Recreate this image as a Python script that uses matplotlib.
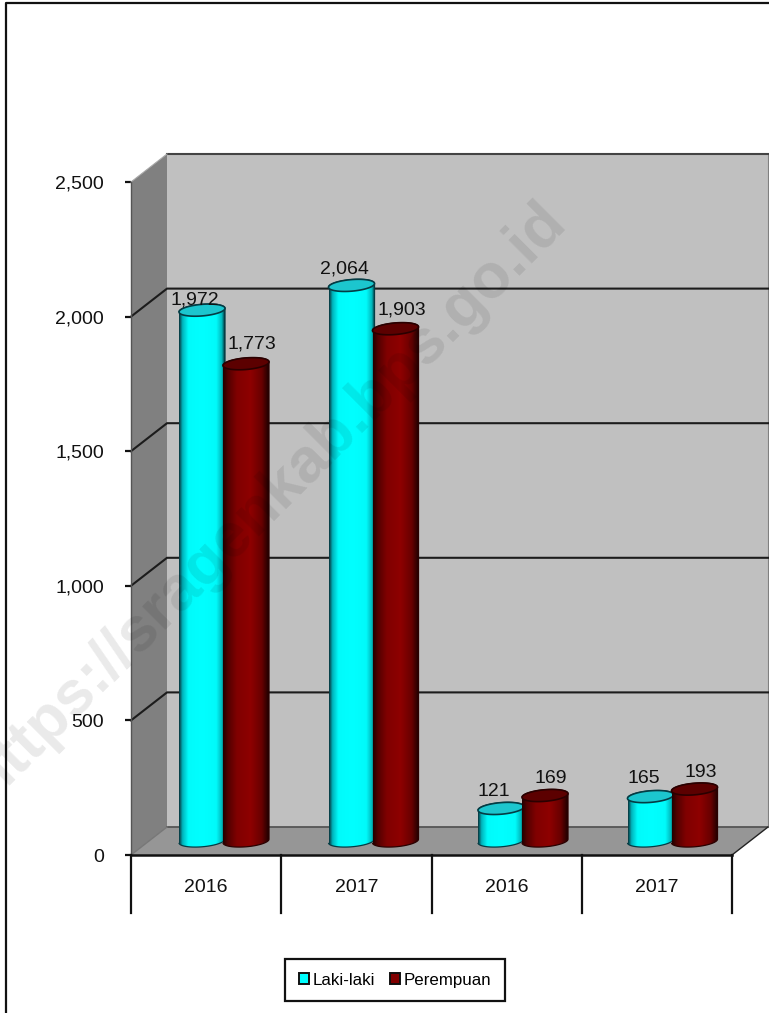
import matplotlib
matplotlib.use("Agg")
import matplotlib.pyplot as plt
import numpy as np
from matplotlib.colors import LinearSegmentedColormap
from matplotlib.lines import Line2D
from matplotlib.patches import Patch, PathPatch, Polygon
from matplotlib.path import Path

plt.rcParams["font.family"] = ["Liberation Sans", "DejaVu Sans"]

# Data
categories = ["2016", "2017", "2016", "2017"]
laki_laki = [1972, 2064, 121, 165]
perempuan = [1773, 1903, 169, 193]
y_ticks = [0, 500, 1000, 1500, 2000, 2500]

W, H = 769, 1013
# front plane of the 3d box, in pixels
LEFT, RIGHT, ZERO_Y, TOP_Y = 131, 732, 855, 182
X_PX = (RIGHT - LEFT) / 4          # pixels per category
Y_PX = (ZERO_Y - TOP_Y) / 2500     # pixels per unit

# sizes given in pixels, converted to data units
DEPTH_X = 36 / X_PX
DEPTH_Y = 28 / Y_PX
BASE_LIFT = 14 / Y_PX
RADIUS_X = 23 / X_PX
RADIUS_Y = 5.8 / Y_PX
TILT = 0.08 * X_PX / Y_PX          # ellipse rises to the right

CYAN_BODY = LinearSegmentedColormap.from_list(
    "cyan_body", [(0, "#083a42"), (0.07, "#00b4bc"), (0.2, "#00fbfb"), (0.5, "#00ffff"),
                  (0.82, "#00fafa"), (0.94, "#00b8bc"), (1, "#063c44")])
RED_BODY = LinearSegmentedColormap.from_list(
    "red_body", [(0, "#240000"), (0.1, "#520000"), (0.3, "#800000"), (0.6, "#8e0000"),
                 (0.85, "#680000"), (1, "#200000")])


def draw_walls(ax):
    """ Draws side wall, back wall, floor and the grid lines"""
    xmax = 4 + DEPTH_X
    ymax = 2500 + DEPTH_Y
    ax.add_patch(Polygon([(0, 0), (DEPTH_X, DEPTH_Y), (DEPTH_X, ymax), (0, 2500)],
                         facecolor="#808080", edgecolor="none", clip_on=False, zorder=1))
    ax.add_patch(Polygon([(DEPTH_X, DEPTH_Y), (xmax, DEPTH_Y), (xmax, ymax), (DEPTH_X, ymax)],
                         facecolor="#c0c0c0", edgecolor="none", clip_on=False, zorder=1))
    ax.add_patch(Polygon([(0, 0), (4, 0), (xmax, DEPTH_Y), (DEPTH_X, DEPTH_Y)],
                         facecolor="#969696", edgecolor="none", clip_on=False, zorder=1))
    # outline of the floor
    ax.plot([DEPTH_X, xmax], [DEPTH_Y, DEPTH_Y], color="#555555", lw=1.3, clip_on=False, zorder=2)
    ax.plot([xmax, xmax], [DEPTH_Y, ymax], color="#808080", lw=0.8, clip_on=False, zorder=2)
    ax.plot([4, xmax], [0, DEPTH_Y], color="#222222", lw=1.0, clip_on=False, zorder=2)
    ax.plot([0, DEPTH_X], [0, DEPTH_Y], color="#777777", lw=1.0, clip_on=False, zorder=2)

    for tick in y_ticks[1:-1]:
        ax.plot([0, DEPTH_X, xmax], [tick, tick + DEPTH_Y, tick + DEPTH_Y],
                color="#1c1c1c", lw=1.5, clip_on=False, zorder=2)
    # top edge of the box is softer
    ax.plot([DEPTH_X, xmax], [ymax, ymax], color="#444444", lw=1.5, clip_on=False, zorder=2)
    ax.plot([0, DEPTH_X], [2500, ymax], color="#a8a8a8", lw=0.8, clip_on=False, zorder=2)


def draw_cylinder(ax, cx, value, cmap, top_color, edge_color):
    """ Draws one shaded cylinder, centre given in data units"""
    base = BASE_LIFT
    top = base + value
    t = np.linspace(0, np.pi, 50)

    # bottom half of the base, left to right
    bx = cx - RADIUS_X * np.cos(t)
    by = base - RADIUS_Y * np.sin(t) + (bx - cx) * TILT
    # top half of the top ellipse, right to left
    tx = cx + RADIUS_X * np.cos(t)
    ty = top + RADIUS_Y * np.sin(t) + (tx - cx) * TILT

    outline = Path(np.column_stack([np.r_[bx, tx], np.r_[by, ty]]))
    body = PathPatch(outline, facecolor="none", edgecolor="none", transform=ax.transData)
    ax.add_patch(body)

    shade = ax.imshow(np.linspace(0, 1, 64).reshape(1, -1), cmap=cmap, aspect="auto",
                      extent=(cx - RADIUS_X, cx + RADIUS_X, by.min(), ty.max()), zorder=3)
    shade.set_clip_path(body)

    ax.add_patch(PathPatch(outline, facecolor="none", edgecolor=edge_color, lw=0.9, zorder=3))

    # top ellipse
    a = np.linspace(0, 2 * np.pi, 100)
    ex = cx + RADIUS_X * np.cos(a)
    ey = top + RADIUS_Y * np.sin(a) + (ex - cx) * TILT
    ax.add_patch(Polygon(np.column_stack([ex, ey]), facecolor=top_color,
                         edgecolor=edge_color, lw=1.2, zorder=3))


def draw_value_label(ax, cx, value, dx, dy):
    """ Writes the value above the top of a cylinder"""
    ax.annotate(f"{value:,}", xy=(cx, BASE_LIFT + value), xytext=(dx, dy),
                textcoords="offset pixels", ha="center", va="center",
                fontsize=14, color="#111111", zorder=5, annotation_clip=False)


fig = plt.figure(figsize=(W / 100, H / 100), dpi=100)
ax = fig.add_axes([LEFT / W, 1 - ZERO_Y / H, (RIGHT - LEFT) / W, (ZERO_Y - TOP_Y) / H])

draw_walls(ax)

# offset of bars from the start of each category, and label nudges in pixels
cyan_pos = (np.arange(4) * 149.5 + 71) / X_PX
red_pos = cyan_pos + 44 / X_PX
cyan_dy = [10, 16, 17, 18]
red_dy = [20, 19, 17, 17]

for i in range(4):
    draw_cylinder(ax, cyan_pos[i], laki_laki[i], CYAN_BODY, "#1cc6ce", "#043c44")
    draw_cylinder(ax, red_pos[i], perempuan[i], RED_BODY, "#5c0000", "#2a0000")
    draw_value_label(ax, cyan_pos[i], laki_laki[i], -7, cyan_dy[i])
    draw_value_label(ax, red_pos[i], perempuan[i], 6, red_dy[i])

ax.set_xlim(0, 4)
ax.set_ylim(0, 2500)
ax.set_yticks(y_ticks)
ax.set_yticklabels([f"{v:,}" for v in y_ticks], fontsize=14, color="#111111")
ax.tick_params(axis="y", length=4.5, width=1.6, color="#111111", pad=15)
ax.set_xticks([])
for side in ["top", "right", "bottom"]:
    ax.spines[side].set_visible(False)
ax.spines["left"].set_color("#555555")
ax.spines["left"].set_linewidth(1.0)
ax.patch.set_visible(False)

# category table under the chart
drop = -58 / Y_PX
ax.plot([0, 4], [0, 0], color="#111111", lw=1.8, clip_on=False, zorder=4)
for i in range(5):
    ax.plot([i, i], [0, drop], color="#111111", lw=1.6, clip_on=False, zorder=4)
for i, label in enumerate(categories):
    ax.text(i + 0.5, -32 / Y_PX, label, ha="center", va="center", fontsize=14, color="#111111")

# legend
handles = [Patch(facecolor="#00ffff", edgecolor="#111111", lw=1.4, label="Laki-laki"),
           Patch(facecolor="#800000", edgecolor="#111111", lw=1.4, label="Perempuan")]
fig.legend(handles=handles, loc="center", bbox_to_anchor=(395 / W, 1 - 980 / H), ncol=2,
           fontsize=12.2, frameon=True, fancybox=False, edgecolor="#111111", framealpha=1,
           handlelength=0.6, handleheight=0.6, handletextpad=0.2, columnspacing=0.9,
           borderpad=0.8, borderaxespad=0).get_frame().set_linewidth(1.6)

# outer frame of the picture, only left and top show
fig.add_artist(Line2D([6 / W, 6 / W, 1], [0, 1 - 3.5 / H, 1 - 3.5 / H], color="#111111", lw=1.6))

# watermark
fig.text(268 / W, 1 - 500 / H, "https://sragenkab.bps.go.id", rotation=45, ha="center", va="center",
         rotation_mode="anchor", fontsize=45, fontweight="bold", color="#000000", alpha=0.085, zorder=10)

fig.savefig("out.png", dpi=100)
